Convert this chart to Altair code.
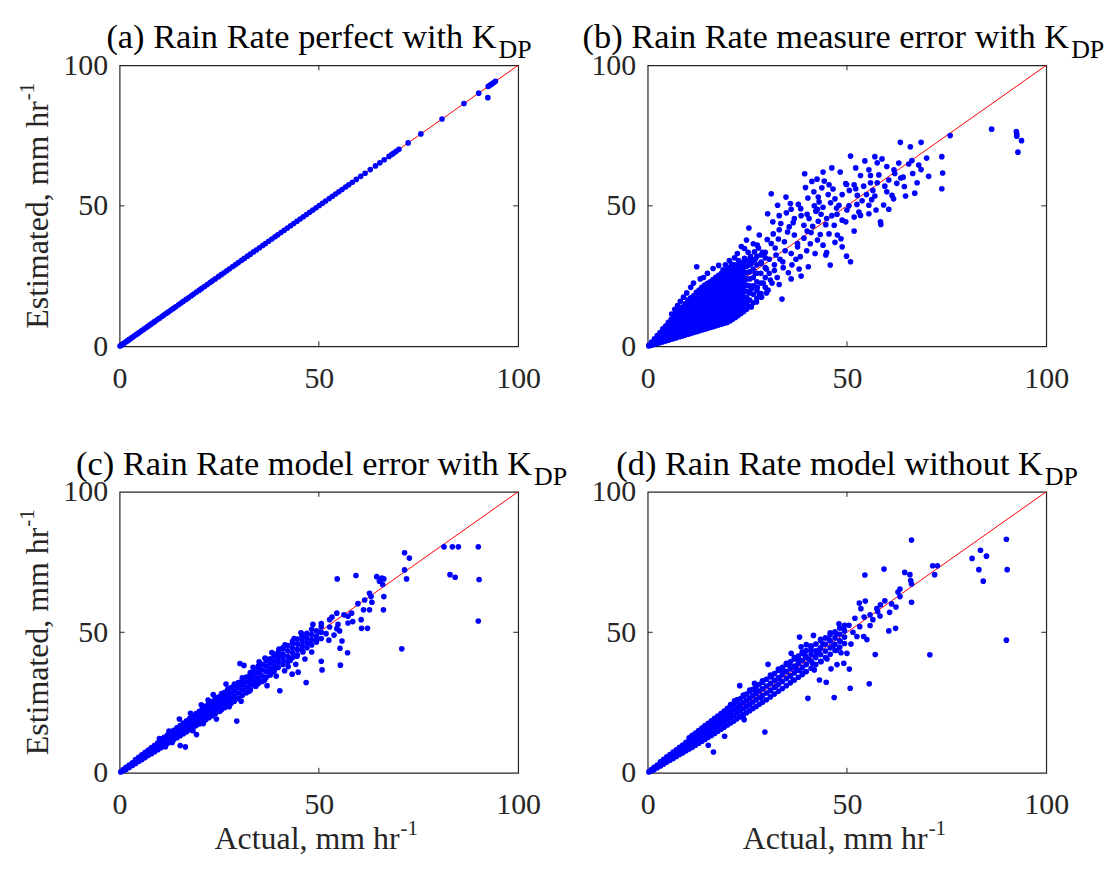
import altair as alt
import pandas as pd

FONT = "Liberation Serif"
W, H = 400, 282
INK = "#262626"

tick_values = [0, 50, 100]
inner_ticks = [50]
diagonal = [0, 100]

titles = ["(a) Rain Rate perfect with K", "(b) Rain Rate measure error with K",
          "(c) Rain Rate model error with K", "(d) Rain Rate model without K"]
title_sub = "DP"
title_split = [378.4, 423.0, 414.0, 396.6]
x_label = "Actual, mm hr"
y_label = "Estimated, mm hr"
unit_sup = "-1"

# ---------- (a) perfect: estimated equals actual ----------
a_actual = [0.1, 0.4, 0.6, 0.9, 1.2, 1.5, 1.8, 2.1, 2.4, 2.8, 3.1, 3.5, 3.9, 4.3, 4.6, 5.0, 5.5, 5.9,
            6.3, 6.8, 7.2, 7.7, 8.1, 8.6, 9.0, 9.6, 10.1, 10.7, 11.2, 11.8, 12.3, 12.9, 13.5, 14.1,
            14.8, 15.4, 16.0, 16.7, 17.3, 18.0, 18.6, 19.3, 20.0, 20.6, 21.3, 22.0, 22.7, 23.3, 24.0,
            24.8, 25.5, 26.2, 26.9, 27.6, 28.4, 29.1, 29.8, 30.6, 31.3, 32.1, 32.8, 33.6, 34.3, 35.1,
            35.9, 36.6, 37.4, 38.2, 39.0, 39.7, 40.5, 41.3, 42.1, 42.9, 43.7, 44.5, 45.3, 46.1, 46.9,
            47.7, 48.5, 49.3, 50.1, 50.9, 51.7, 52.6, 53.4, 54.2, 55.0, 55.8, 56.7, 57.5, 58.4, 59.4,
            60.5, 61.6, 62.9, 64.2, 65.3, 66.4, 67.6, 68.3, 68.8, 69.4, 70.1, 72.4, 75.6, 80.9, 86.4,
            90.1, 92.5, 93.0, 93.4, 93.9, 94.3]
a_estimated = list(a_actual)
a_scatter = [(92.4, 88.5)]

# ---------- (b) measurement error: dense wedge columns + scattered points ----------
b_dense = {
    0.3: [0.1, 0.4], 1.0: [0.4, 1.0, 1.5], 1.7: [0.7, 1.4, 2.1, 2.7], 2.4: [1.0, 2.0, 3.0, 3.8],
    3.1: [1.3, 2.5, 3.7, 4.9], 3.8: [1.6, 2.8, 4.0, 5.2, 6.2], 4.5: [1.9, 3.2, 4.6, 6.0, 7.2],
    5.2: [2.2, 3.6, 5.0, 6.4, 7.8, 8.5], 5.9: [2.5, 4.0, 5.5, 7.0, 8.5, 9.6],
    6.6: [2.8, 3.9, 5.4, 6.9, 8.4, 9.9, 10.8], 7.3: [3.1, 4.5, 6.0, 7.5, 9.0, 10.5, 11.8],
    8.0: [3.4, 4.4, 5.9, 7.4, 8.9, 10.4, 11.9, 12.9], 8.7: [3.7, 5.0, 6.5, 8.0, 9.5, 11.0, 12.5, 14.0],
    9.4: [4.0, 4.9, 6.4, 7.9, 9.4, 10.9, 12.4, 13.9, 15.1],
    10.1: [4.3, 5.5, 7.0, 8.5, 10.0, 11.5, 13.0, 14.5, 16.0, 16.5],
    10.8: [4.6, 5.4, 6.9, 8.4, 9.9, 11.4, 12.9, 14.4, 15.9, 17.3],
    11.5: [4.9, 6.0, 7.5, 9.0, 10.5, 12.0, 13.5, 15.0, 16.5, 18.0],
    12.2: [5.2, 5.9, 7.4, 8.9, 10.4, 11.9, 13.4, 14.9, 16.4, 17.9, 19.2],
    12.9: [5.5, 6.5, 8.0, 9.5, 11.0, 12.5, 14.0, 15.5, 17.0, 18.5, 20.0],
    13.6: [5.8, 6.4, 7.9, 9.4, 10.9, 12.4, 13.9, 15.4, 16.9, 18.4, 19.9, 21.0],
    14.3: [6.1, 7.0, 8.5, 10.0, 11.5, 13.0, 14.5, 16.0, 17.5, 19.0, 20.5, 21.8],
    15.0: [6.4, 7.4, 8.9, 10.4, 11.9, 13.4, 14.9, 16.4, 17.9, 19.4, 20.9, 22.4],
    15.7: [6.7, 8.0, 9.5, 11.0, 12.5, 14.0, 15.5, 17.0, 18.5, 20.0, 21.5, 23.0],
    16.4: [7.0, 7.9, 9.4, 10.9, 12.4, 13.9, 15.4, 16.9, 18.4, 19.9, 21.4, 22.9, 23.8],
    17.1: [7.3, 8.5, 10.0, 11.5, 13.0, 14.5, 16.0, 17.5, 19.0, 20.5, 22.0, 23.5, 24.6],
    17.8: [7.6, 8.9, 10.4, 11.9, 13.4, 14.9, 16.4, 17.9, 19.4, 20.9, 22.4, 23.9, 25.3],
    18.5: [7.9, 9.5, 11.0, 12.5, 14.0, 15.5, 17.0, 18.5, 20.0, 21.5, 23.0, 24.5, 26.0],
    19.2: [8.2, 9.4, 10.9, 12.4, 13.9, 15.4, 16.9, 18.4, 19.9, 21.4, 22.9, 24.4, 25.9, 26.7],
    19.9: [8.5, 10.0, 11.5, 13.0, 14.5, 16.0, 17.5, 19.0, 20.5, 22.0, 23.5, 25.0, 26.5, 27.4],
    20.6: [9.0, 10.4, 11.9, 13.4, 14.9, 16.4, 17.9, 19.4, 20.9, 22.4, 23.9, 25.4, 26.9, 28.0],
    21.3: [9.6, 11.0, 12.5, 14.0, 15.5, 17.0, 18.5, 20.0, 21.5, 23.0, 24.5, 26.0, 27.5, 28.6],
    22.0: [10.3, 11.4, 12.9, 14.4, 15.9, 17.4, 18.9, 20.4, 21.9, 23.4, 24.9, 26.4, 27.9, 29.0],
    22.7: [11.0, 12.2, 13.7, 15.2, 16.7, 18.2, 19.7, 21.2, 22.7, 24.2, 25.7, 27.2, 28.7],
    23.4: [11.7, 13.0, 14.8, 16.6, 18.4, 20.2, 22.0, 23.8, 25.6, 27.4, 29.4],
    24.1: [12.4, 14.0, 15.8, 17.6, 19.4, 21.2, 23.0, 24.8, 26.6, 28.4, 30.0],
    24.8: [13.2, 15.2, 17.4, 19.6, 21.8, 24.0, 26.2, 28.4, 30.4],
    25.6: [14.2, 16.5, 19.0, 21.5, 24.0, 26.5, 29.0, 31.0],
    26.5: [15.5, 18.5, 21.5, 24.5, 27.5, 30.5], 27.4: [17.0, 20.0, 23.0, 26.0, 29.0, 32.0],
    28.4: [18.8, 22.5, 26.0, 29.5, 32.5], 29.5: [21.0, 24.5, 28.0, 31.5, 33.5],
}
b_scatter = [
    (86.3, 77.3), (92.5, 76.4), (92.6, 75.6), (92.6, 74.8), (93.8, 73.2), (92.9, 69.1), (75.9, 75.0),
    (73.8, 67.5), (74.0, 61.7), (73.8, 56.1), (63.4, 72.6), (65.9, 71.0), (68.6, 72.6), (66.3, 66.1),
    (68.6, 62.9), (64.1, 60.2), (67.6, 58.2), (64.4, 56.9), (63.0, 65.2), (65.5, 64.9), (63.5, 59.9),
    (50.9, 67.7), (58.8, 66.7), (57.6, 65.3), (55.5, 62.8), (53.4, 60.8), (55.9, 60.8), (49.7, 57.9),
    (51.8, 57.5), (57.6, 58.2), (55.9, 58.2), (52.2, 56.1), (50.6, 55.5), (52.6, 53.7), (54.9, 54.0),
    (57.0, 53.5), (61.3, 53.7), (61.7, 52.5), (60.5, 48.8), (58.4, 44.3), (58.5, 43.4), (55.5, 50.2),
    (55.5, 47.2), (53.4, 46.6), (51.8, 46.0), (49.7, 44.3), (51.8, 41.0), (48.8, 44.9), (50.9, 30.1),
    (49.9, 32.1), (48.8, 35.4), (47.6, 39.6), (46.8, 43.1), (47.4, 49.2), (48.0, 50.2), (48.8, 54.0),
    (49.9, 57.6), (39.4, 61.4), (41.2, 58.7), (43.7, 56.4), (45.5, 57.5), (42.8, 53.1), (43.0, 51.4),
    (45.9, 51.1), (42.6, 48.8), (42.2, 48.1), (44.9, 45.5), (44.7, 43.3), (41.4, 42.7), (43.3, 39.8),
    (42.6, 37.8), (44.9, 33.4), (44.7, 32.5), (45.8, 28.9), (40.3, 28.3), (38.3, 31.9), (39.9, 34.0),
    (37.6, 36.6), (38.4, 49.0), (36.8, 45.5), (39.2, 43.1), (40.5, 45.5), (31.0, 54.3), (34.7, 53.1),
    (30.1, 47.2), (31.4, 44.3), (33.4, 43.7), (25.4, 42.1), (35.1, 40.7), (36.8, 39.6), (34.3, 37.2),
    (37.6, 35.4), (31.0, 36.6), (28.0, 39.6), (27.5, 36.0), (26.8, 33.6), (29.3, 33.1), (32.2, 32.5),
    (33.9, 30.1), (35.3, 26.2), (30.8, 23.6), (33.7, 16.8), (12.3, 28.3), (16.4, 27.7), (18.9, 27.2),
    (21.0, 29.3), (24.3, 31.3), (24.3, 34.8), (30.0, 38.0), (31.5, 40.0), (33.0, 41.5), (35.5, 42.5),
    (36.5, 44.0), (38.5, 46.5), (40.0, 47.0), (41.8, 50.0), (43.5, 47.0), (44.0, 49.5), (32.0, 35.0),
    (34.5, 34.0), (36.0, 33.0), (37.2, 31.0), (39.2, 38.5), (41.0, 40.5), (28.5, 30.0), (30.5, 31.0),
    (29.8, 27.5), (27.0, 26.0), (26.0, 29.5), (25.2, 33.5), (23.5, 35.5), (22.5, 33.0), (27.8, 35.0),
    (32.8, 38.2), (45.5, 40.0), (47.0, 37.0), (46.2, 46.5), (44.0, 36.0), (40.8, 36.5), (42.0, 33.0),
    (38.0, 27.5), (36.2, 29.0), (34.0, 28.0), (31.8, 27.0), (29.0, 22.5), (27.5, 21.0), (26.5, 36.5),
    (24.8, 37.8), (22.8, 30.5), (21.8, 31.5), (20.5, 30.5), (19.5, 29.0), (17.8, 28.8), (15.0, 26.0),
    (14.0, 24.5), (13.2, 24.0), (11.5, 22.5), (10.8, 21.0), (9.8, 19.0), (9.0, 17.5), (8.2, 16.0),
    (7.5, 14.5), (6.8, 13.2), (6.0, 11.5), (26.0, 20.5), (28.0, 18.5), (30.2, 20.0), (23.0, 14.0),
    (25.0, 16.0), (22.0, 12.5), (21.0, 10.5), (33.0, 22.0), (36.0, 24.0), (38.5, 25.0), (40.0, 41.0),
    (42.8, 44.5), (47.5, 47.0), (50.5, 50.0), (52.5, 50.5), (53.8, 51.8), (56.5, 55.5), (59.5, 57.0),
    (60.5, 59.2), (62.0, 61.5), (58.0, 61.0), (54.2, 57.0), (56.2, 52.2), (53.0, 47.8), (57.3, 48.5),
    (59.2, 50.3), (60.0, 55.0), (48.5, 38.3), (50.0, 48.5), (47.0, 52.5), (45.3, 54.0), (44.3, 58.8),
    (46.5, 56.0), (41.7, 55.0), (40.2, 52.8), (37.8, 50.5), (36.0, 48.8), (34.8, 47.5), (33.0, 46.5),
    (35.8, 50.8), (32.6, 50.2), (39.6, 56.5), (42.5, 59.5), (44.0, 62.0), (46.2, 63.5), (48.3, 62.0),
    (52.2, 63.5), (54.5, 66.0), (57.0, 67.5), (60.0, 64.0), (61.8, 62.8), (62.5, 58.0), (66.5, 61.5),
    (68.0, 64.5), (70.5, 60.5), (67.0, 54.5), (64.7, 53.5), (70.0, 67.0), (26.0, 14.0), (27.3, 15.8),
    (28.6, 17.5), (29.8, 19.0), (31.2, 22.5), (32.5, 24.5), (30.5, 26.0), (31.8, 29.0), (33.2, 31.0),
    (27.0, 31.0), (28.8, 33.5), (25.8, 32.0),
]

# ---------- (c) model error with KDP ----------
c_band = {
    0.3: [0.3], 0.9: [0.7, 1.1], 1.6: [1.2, 1.9], 2.4: [1.9, 2.7], 3.2: [2.6, 3.5], 4.0: [3.3, 4.1, 4.7],
    4.8: [4.0, 4.9, 5.5], 5.6: [4.7, 5.6, 6.4], 6.4: [5.4, 6.4, 7.3], 7.2: [6.2, 7.2, 8.1],
    8.0: [6.8, 7.9, 9.0], 8.8: [7.5, 8.7, 9.8], 9.6: [8.2, 9.5, 10.7], 10.4: [8.9, 10.0, 11.0, 11.9],
    11.2: [9.7, 10.7, 11.7, 12.6], 12.0: [10.4, 11.5, 12.5, 13.4], 12.8: [11.0, 12.2, 13.3, 14.3],
    13.6: [11.8, 13.0, 14.1, 15.1], 14.4: [12.5, 13.7, 14.9, 16.0], 15.2: [13.2, 14.5, 15.7, 16.8],
    16.0: [13.9, 15.2, 16.5, 17.7], 16.8: [14.6, 16.0, 17.3, 18.5], 17.6: [15.3, 16.7, 18.1, 19.4],
    18.4: [16.0, 17.5, 18.9, 20.2], 19.2: [16.8, 18.3, 19.7, 21.1], 20.0: [17.4, 19.0, 20.5, 21.9],
    20.8: [18.1, 19.7, 21.3, 22.8, 23.4], 21.6: [18.9, 20.5, 22.1, 23.7],
    22.4: [19.6, 21.3, 22.9, 24.5, 25.0], 23.2: [20.3, 22.0, 23.7, 25.3],
    24.0: [21.0, 22.7, 24.4, 26.1, 26.6], 24.8: [21.8, 23.5, 25.2, 26.9],
    25.6: [22.5, 24.2, 26.0, 27.7, 28.2], 26.4: [23.2, 25.0, 26.8, 28.6],
    27.2: [24.0, 25.8, 27.6, 29.4, 29.9], 28.0: [24.7, 26.5, 28.4, 30.3],
    28.8: [25.5, 27.3, 29.2, 31.1, 31.6], 29.8: [26.5, 28.4, 30.3, 32.1],
    30.8: [27.6, 29.5, 31.4, 33.2, 33.8], 31.8: [28.5, 30.4, 32.3, 34.1],
    32.8: [29.5, 31.4, 33.3, 35.1, 35.7], 33.8: [31.0, 32.7, 34.5, 36.3],
    34.8: [31.8, 33.7, 35.6, 37.4, 38.0], 35.8: [32.5, 34.5, 36.6, 38.6],
    36.8: [34.0, 36.0, 38.0, 39.9, 40.4], 37.8: [35.0, 36.9, 38.8, 40.6],
    38.8: [36.2, 38.0, 39.8, 41.6, 42.2], 39.8: [37.5, 39.3, 41.1, 42.9],
    41.0: [38.5, 40.3, 42.2, 44.1, 44.6], 42.2: [39.5, 41.4, 43.4, 45.3],
    43.4: [41.0, 42.7, 44.4, 46.1, 46.8], 44.6: [42.0, 43.9, 45.8, 47.6],
    45.8: [43.5, 45.2, 46.9, 48.6, 49.3], 47.0: [44.5, 46.2, 47.9, 49.6],
    48.2: [45.5, 47.3, 49.2, 51.1], 49.4: [46.5, 48.5, 50.5], 50.6: [47.8, 50.0, 52.0],
}
c_scatter = [
    (81.4, 80.4), (83.5, 80.4), (85.0, 80.4), (90.0, 80.4), (82.9, 70.5), (84.2, 69.6), (90.2, 68.8),
    (90.0, 54.0), (70.8, 44.1), (71.5, 78.3), (72.7, 76.4), (71.5, 72.2), (72.0, 69.0), (54.6, 69.0),
    (59.3, 70.2), (64.5, 69.8), (65.8, 69.3), (66.3, 69.0), (65.2, 68.2), (66.0, 67.0), (62.7, 63.9),
    (63.1, 62.7), (66.3, 62.7), (63.3, 60.7), (62.7, 58.0), (66.2, 58.0), (61.2, 58.0), (60.6, 54.5),
    (60.7, 51.4), (62.2, 51.4), (57.3, 55.7), (57.3, 53.3), (55.2, 50.5), (54.5, 51.3), (54.8, 52.8),
    (54.5, 56.8), (53.3, 55.4), (52.7, 54.5), (50.6, 53.1), (52.7, 51.9), (50.2, 50.1), (51.8, 49.5),
    (55.8, 46.9), (55.3, 44.3), (57.2, 42.7), (55.4, 38.3), (50.6, 39.7), (50.8, 36.6), (46.8, 32.1),
    (44.8, 35.8), (43.3, 35.1), (40.2, 29.2), (41.4, 36.3), (39.3, 34.4), (37.8, 34.8), (29.4, 18.4),
    (30.2, 38.9), (31.2, 38.2), (26.7, 31.6), (22.2, 25.9), (15.0, 19.1), (15.2, 9.7), (16.5, 9.2),
    (19.3, 13.6), (24.3, 19.1), (48.5, 52.8), (49.5, 47.5), (47.8, 46.2), (46.0, 43.0), (44.5, 41.5),
    (42.8, 40.0), (45.5, 49.8), (43.8, 47.8), (41.5, 45.5), (40.0, 44.0), (38.2, 42.8), (36.5, 40.8),
    (35.0, 39.5), (33.5, 37.5), (32.5, 29.0), (34.2, 30.8), (36.4, 33.0), (38.6, 36.0), (27.5, 23.5),
    (25.2, 22.0), (21.0, 17.5), (18.4, 15.0), (23.5, 27.8), (20.5, 24.2), (17.8, 21.2), (13.2, 10.8),
    (11.5, 9.3), (12.4, 14.8), (10.0, 12.2), (52.5, 47.2), (53.8, 49.0), (58.2, 56.8), (56.3, 56.2),
    (59.8, 60.2), (61.5, 61.5), (58.5, 53.8), (48.2, 43.0), (46.5, 40.5), (42.3, 37.8), (44.2, 38.6),
    (37.0, 31.0), (35.2, 32.6), (30.5, 25.5), (28.6, 26.0), (40.8, 42.2), (39.2, 37.5),
]

# ---------- (d) model without KDP ----------
d_band = {
    0.3: [0.3], 0.9: [0.6, 1.1], 1.6: [1.1, 1.9], 2.4: [1.8, 2.7], 3.2: [2.4, 3.2, 3.9],
    4.0: [3.1, 4.0, 4.8], 4.8: [3.8, 4.8, 5.7], 5.6: [4.5, 5.5, 6.5], 6.4: [5.1, 6.3, 7.4],
    7.2: [5.8, 7.0, 8.2], 8.0: [6.5, 7.8, 9.1], 8.8: [7.1, 8.5, 9.9], 9.6: [7.8, 9.3, 10.8],
    10.4: [8.5, 9.8, 11.1, 12.4], 11.2: [9.1, 10.5, 11.9, 13.3], 12.0: [9.8, 11.2, 12.7, 14.1],
    12.8: [10.5, 12.0, 13.5, 15.0], 13.6: [11.2, 12.8, 14.3, 15.9], 14.4: [11.9, 13.5, 15.2, 16.8],
    15.2: [12.6, 14.3, 16.0, 17.6], 16.0: [13.3, 15.0, 16.8, 18.5], 16.8: [14.0, 15.8, 17.6, 19.4],
    17.6: [14.8, 16.6, 18.4, 20.2], 18.4: [15.5, 17.4, 19.2, 21.1], 19.2: [16.2, 18.1, 20.1, 22.0],
    20.0: [17.0, 18.9, 20.9, 22.9], 20.8: [17.7, 19.7, 21.8, 23.8, 24.3],
    21.6: [18.4, 20.5, 22.6, 24.6], 22.4: [19.2, 21.3, 23.4, 25.4, 26.0],
    23.2: [19.9, 22.0, 24.2, 26.3], 24.0: [20.6, 22.8, 25.0, 27.2, 27.7],
    24.8: [21.4, 23.6, 25.8, 28.0], 25.6: [22.1, 24.4, 26.6, 28.9, 29.4],
    26.4: [22.9, 25.2, 27.5, 29.7], 27.2: [23.6, 26.0, 28.3, 30.6, 31.1],
    28.0: [24.4, 26.7, 29.1, 31.4], 28.8: [25.1, 27.5, 29.9, 32.2, 32.7],
    29.8: [26.0, 28.4, 30.9, 33.3], 30.8: [27.0, 29.4, 31.8, 34.3, 34.8],
    31.8: [28.0, 30.4, 32.9, 35.3], 32.8: [29.0, 31.5, 33.9, 36.4, 36.9],
    33.8: [30.0, 32.5, 35.0, 37.5], 34.8: [31.0, 33.5, 36.0, 38.5, 39.0],
    35.8: [32.0, 34.5, 37.0, 39.5], 36.8: [33.0, 35.5, 38.0, 40.5, 41.0],
    37.8: [34.0, 36.5, 39.0, 41.5], 38.8: [35.0, 37.5, 40.0, 42.5, 43.0],
    39.8: [36.0, 38.5, 41.0, 43.5], 41.0: [37.2, 39.7, 42.2, 44.7, 45.2],
    42.2: [38.5, 41.0, 43.4, 45.8], 43.4: [39.7, 42.1, 44.6, 47.0, 47.5],
    44.6: [41.0, 43.3, 45.7, 48.0], 45.8: [42.2, 44.5, 46.9, 49.2, 49.8],
    47.0: [43.5, 45.7, 48.0, 50.2], 48.2: [44.7, 47.0, 49.3, 51.5], 49.4: [46.0, 48.3, 50.5, 52.5],
}
d_scatter = [
    (66.2, 82.8), (90.0, 83.1), (90.2, 72.3), (90.0, 47.2), (83.5, 79.2), (85.0, 77.1), (81.4, 76.3),
    (83.1, 72.3), (84.2, 68.2), (70.8, 42.0), (71.5, 73.7), (72.7, 73.7), (72.0, 70.5), (59.3, 72.5),
    (54.5, 70.4), (64.5, 71.3), (65.8, 70.5), (66.0, 68.4), (66.2, 67.2), (66.2, 60.7), (63.3, 65.4),
    (62.8, 64.3), (63.3, 62.7), (61.2, 60.1), (62.3, 59.0), (60.7, 57.1), (57.5, 58.4), (57.7, 57.4),
    (60.5, 50.5), (62.2, 51.4), (55.8, 52.4), (54.6, 61.1), (53.1, 60.4), (53.5, 58.4), (54.3, 55.4),
    (55.0, 47.4), (57.1, 42.1), (55.6, 31.7), (50.6, 36.9), (50.8, 30.1), (46.8, 26.8), (43.1, 33.0),
    (44.8, 32.2), (40.2, 26.5), (29.4, 14.5), (16.5, 7.4), (15.2, 9.8), (19.3, 13.0), (38.1, 48.3),
    (41.6, 48.9), (38.5, 44.8), (39.8, 45.6), (42.5, 42.5), (47.3, 43.6), (48.5, 42.7), (50.0, 42.5),
    (51.0, 45.8), (47.3, 49.5), (49.3, 50.9), (30.2, 38.6), (31.0, 34.2), (37.9, 40.3), (36.0, 42.5),
    (41.4, 38.9), (41.8, 36.6), (26.8, 31.8), (23.1, 31.0), (21.8, 25.6), (24.2, 18.9), (48.0, 53.0),
    (50.5, 52.5), (52.0, 55.0), (51.5, 50.0), (53.2, 52.0), (56.5, 54.5), (58.3, 55.8), (45.5, 47.5),
    (44.0, 45.8), (46.5, 45.2), (43.2, 44.0), (41.0, 43.5), (39.5, 41.8), (37.2, 37.2), (35.5, 38.5),
    (34.0, 36.5), (33.0, 33.5), (35.8, 34.5), (32.2, 30.8), (28.5, 26.8), (30.8, 29.2), (27.2, 28.8),
    (25.5, 24.2), (22.8, 23.0), (20.2, 21.5), (18.5, 19.8), (17.5, 16.0), (14.0, 12.2), (12.5, 10.5),
    (11.0, 12.8), (45.0, 40.5), (43.5, 39.5), (48.3, 46.8), (52.5, 48.5), (55.8, 56.2), (59.5, 61.2),
    (58.4, 59.8), (54.2, 48.5), (49.2, 39.0), (47.5, 38.5), (46.0, 37.0), (38.8, 35.5), (36.5, 33.0),
    (42.0, 41.2), (40.5, 40.3),
]


def build(dense, scatter, line_x=None, line_y=None):
    xs, ys = [], []
    if line_x is not None:
        xs += list(line_x)
        ys += list(line_y)
    for x, col in dense.items():
        for y in col:
            xs.append(x)
            ys.append(y)
    for x, y in scatter:
        xs.append(x)
        ys.append(y)
    return pd.DataFrame({"actual": xs, "estimated": ys})


X = alt.X("actual:Q", scale=alt.Scale(domain=[0, 100], nice=False),
          axis=alt.Axis(values=tick_values, format="d", labelPadding=17), title=None)
Y = alt.Y("estimated:Q", scale=alt.Scale(domain=[0, 100], nice=False),
          axis=alt.Axis(values=tick_values, format="d", labelPadding=12), title=None)
ONE = pd.DataFrame({"k": [0]})


def txt(text, x, y, size, align, angle=0, color="#000000"):
    kw = dict(font=FONT, fontSize=size, align=align, baseline="alphabetic", color=color)
    if angle:
        kw["angle"] = angle
    return alt.Chart(ONE).mark_text(**kw).encode(
        x=alt.value(x), y=alt.value(y), text=alt.value(text))


def panel(df, title, split, bottom, left):
    diag = alt.Chart(pd.DataFrame({"actual": diagonal, "estimated": diagonal})).mark_line(
        color="#FF0000", strokeWidth=1).encode(x=X, y=Y)
    pts = alt.Chart(df).mark_circle(size=32, color="#0000FF", opacity=1).encode(x=X, y=Y)
    tx = pd.DataFrame({"actual": inner_ticks})
    ty = pd.DataFrame({"estimated": inner_ticks})
    rule = dict(color=INK, strokeWidth=1)
    layers = [
        diag, pts,
        alt.Chart(tx).mark_rule(**rule).encode(x=X, y=alt.value(H), y2=alt.value(H - 5)),
        alt.Chart(tx).mark_rule(**rule).encode(x=X, y=alt.value(0), y2=alt.value(5)),
        alt.Chart(ty).mark_rule(**rule).encode(y=Y, x=alt.value(0), x2=alt.value(5)),
        alt.Chart(ty).mark_rule(**rule).encode(y=Y, x=alt.value(W), x2=alt.value(W - 5)),
        txt(title, split, -17, 34.5, "right"),
        txt(title_sub, split + 2, -7, 26, "left"),
    ]
    if bottom:
        layers += [txt(x_label, 281, H + 77, 32, "right", color=INK),
                   txt(unit_sup, 282, H + 62, 21, "left", color=INK)]
    if left:
        layers += [txt(y_label, -72, 36, 32, "right", angle=270, color=INK),
                   txt(unit_sup, -86, 35, 21, "left", angle=270, color=INK)]
    return alt.layer(*layers).properties(width=W, height=H)


pa = panel(build({}, a_scatter, a_actual, a_estimated), titles[0], title_split[0], False, True)
pb = panel(build(b_dense, b_scatter), titles[1], title_split[1], False, False)
pc = panel(build(c_band, c_scatter), titles[2], title_split[2], True, True)
pd_ = panel(build(d_band, d_scatter), titles[3], title_split[3], True, False)

chart = alt.concat(pa, pb, pc, pd_, columns=2, spacing={"row": 146, "column": 130},
                   bounds="flush").configure_view(
    stroke=INK, strokeWidth=1.2
).configure_axis(
    grid=False, domain=False, ticks=False, tickSize=0, labelFont=FONT, labelFontSize=30,
    labelColor=INK, labelFlush=False
).properties(
    background="white", padding={"left": 8, "top": 10, "right": 5, "bottom": 5}
)

chart.save("out.html", embed_options={"renderer": "svg", "actions": False})
